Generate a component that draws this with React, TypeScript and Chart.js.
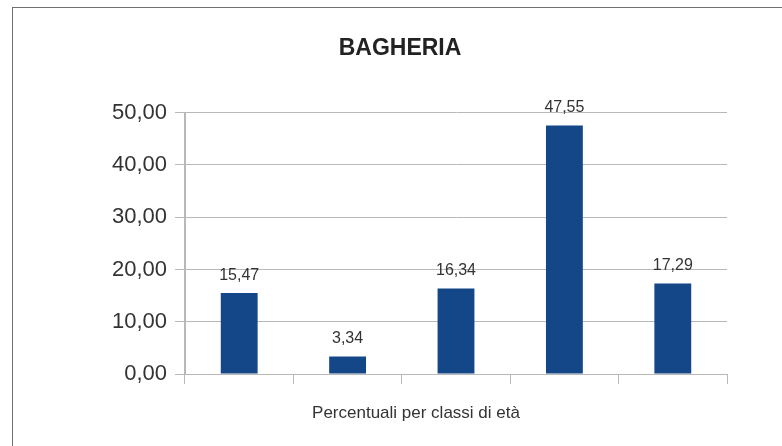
import React, { useEffect, useRef } from "react";
import { Chart, registerables } from "chart.js";

Chart.register(...registerables);

const categories = ["1", "2", "3", "4", "5"];
const values = [15.47, 3.34, 16.34, 47.55, 17.29];
const yTicks = [0, 10, 20, 30, 40, 50];
const chartTitle = "BAGHERIA";
const xTitle = "Percentuali per classi di età";

const fmt = (v: number) => v.toFixed(2).replace(".", ",");

const FONT = "'Liberation Sans', Arial, sans-serif";
const GRID = "#b8b8b8";
const TEXT = "#333333";

const dataLabels = {
  id: "dataLabels",
  afterDatasetsDraw(chart: any) {
    const ctx = chart.ctx;
    const meta = chart.getDatasetMeta(0);
    ctx.save();
    ctx.font = `16px ${FONT}`;
    ctx.fillStyle = TEXT;
    ctx.textAlign = "center";
    ctx.textBaseline = "middle";
    meta.data.forEach((el: any, i: number) => {
      ctx.fillText(fmt(values[i]), el.x, el.y - 18);
    });
    ctx.restore();
  },
};

const xTitlePlugin = {
  id: "xTitlePlugin",
  afterDraw(chart: any) {
    const ctx = chart.ctx;
    const a = chart.chartArea;
    ctx.save();
    ctx.font = `17px ${FONT}`;
    ctx.fillStyle = TEXT;
    ctx.textAlign = "center";
    ctx.textBaseline = "middle";
    ctx.fillText(xTitle, (a.left + a.right) / 2 - 40, a.bottom + 39);
    ctx.restore();
  },
};

export default function App() {
  const ref = useRef<HTMLCanvasElement | null>(null);

  useEffect(() => {
    if (!ref.current) return;
    const nLines = categories.length;
    const chart = new Chart(ref.current, {
      type: "bar",
      data: {
        labels: categories,
        datasets: [
          {
            data: values,
            backgroundColor: "#134787",
            borderWidth: 0,
            barPercentage: 0.34,
            categoryPercentage: 1,
          },
        ],
      },
      options: {
        animation: false,
        responsive: false,
        layout: { padding: { left: 73, right: 73, top: 0, bottom: 52 } },
        plugins: {
          legend: { display: false },
          tooltip: { enabled: false },
          title: {
            display: true,
            text: chartTitle,
            color: "#222222",
            font: { size: 23, weight: "bold", family: FONT },
            padding: { top: 35, bottom: 50 },
          },
        },
        scales: {
          x: {
            grid: {
              offset: true,
              drawOnChartArea: true,
              color: (c: any) =>
                c.index === 0 || c.index === nLines ? GRID : "rgba(0,0,0,0)",
              tickColor: GRID,
              tickLength: 10,
              lineWidth: 1,
            },
            border: { display: true, color: GRID },
            ticks: { callback: () => "", font: { size: 1 } },
            afterFit: (s: any) => {
              s.height = 20;
            },
          },
          y: {
            min: yTicks[0],
            max: yTicks[yTicks.length - 1],
            afterBuildTicks: (s: any) => {
              s.ticks = yTicks.map((v) => ({ value: v }));
            },
            grid: { color: GRID, tickLength: 10, tickColor: GRID, lineWidth: 1 },
            border: { display: true, color: GRID },
            ticks: {
              padding: 8,
              color: TEXT,
              font: { size: 22, family: FONT },
              callback: (v: any) => fmt(Number(v)),
            },
            afterFit: (s: any) => {
              s.width = 112;
            },
          },
        },
      },
      plugins: [dataLabels, xTitlePlugin],
    });
    return () => chart.destroy();
  }, []);

  return (
    <div
      style={{
        position: "absolute",
        left: 0,
        top: 0,
        width: 782,
        height: 446,
        overflow: "hidden",
        background: "#ffffff",
      }}
    >
      <canvas ref={ref} width={800} height={446} style={{ width: 800, height: 446, display: "block" }} />
      <div
        style={{
          position: "absolute",
          left: 12,
          top: 7,
          width: 900,
          height: 600,
          borderLeft: "1px solid #707070",
          borderTop: "1px solid #707070",
          pointerEvents: "none",
        }}
      />
    </div>
  );
}
